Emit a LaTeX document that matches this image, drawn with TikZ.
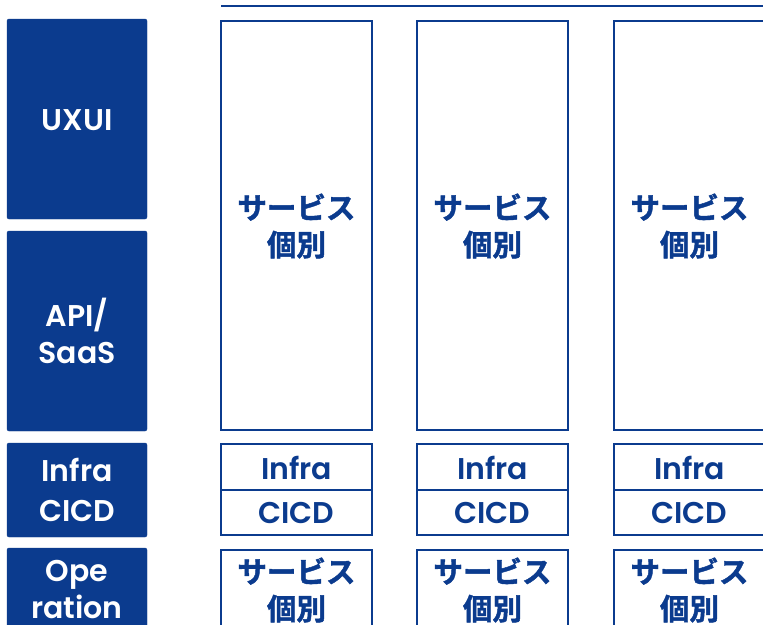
\documentclass[tikz,border=0pt]{standalone}
\usepackage{fontspec}
\setmainfont{Poppins}[BoldFont={Poppins SemiBold}]
\newfontfamily\jp{Noto Sans CJK JP}[BoldFont={Noto Sans CJK JP Bold},BoldFeatures={FakeBold=1.5}]
\definecolor{navy}{HTML}{0B3B8E}
\begin{document}
\begin{tikzpicture}[x=1pt,y=-1pt,
  catbox/.style={fill=navy,draw=navy,rounded corners=2pt},
  colbox/.style={draw=navy,line width=2pt,fill=white},
  cattext/.style={text=white,font=\fontsize{30}{37}\selectfont\bfseries,align=center,inner sep=0},
  coltext/.style={text=navy,font=\fontsize{30}{37}\selectfont\bfseries,align=center,inner sep=0},
  jptext/.style={text=navy,font=\jp\fontsize{29.5}{37}\selectfont\bfseries,align=center,inner sep=0}]
\path[use as bounding box] (0,0) rectangle (763,624);
\clip (0,0) rectangle (763,624);
\fill[white] (0,0) rectangle (763,624);
% top line
\draw[navy,line width=2pt] (221,6) -- (770,6);
% left category boxes
\draw[catbox] (7,19) rectangle (147,219);
\draw[catbox] (7,231) rectangle (147,431);
\draw[catbox] (7,443) rectangle (147,537);
\draw[catbox] (7,548) rectangle (147,640);
\node[cattext] (uxui) at (77,120) {UXUI};
\node[cattext] (api) at (77,331) {API/\\SaaS};
\node[cattext] (infra) at (77,490) {Infra\\[3pt]CICD};
\node[cattext] (ope) at (77,590) {Ope\\ration};
% columns
\foreach \x/\n in {221/a,417/b,614/c}{
  \draw[colbox] (\x,21) rectangle ++(151,409);
  \node[jptext] (svc\n) at (\x+75.5,226) {サービス\\個別};
  \draw[colbox] (\x,444) rectangle ++(151,91);
  \draw[navy,line width=2pt] (\x,490) -- ++(151,0);
  \node[coltext] (inf\n) at (\x+75.5,468) {Infra};
  \node[coltext] (ci\n) at (\x+75.5,513) {CICD};
  \draw[colbox] (\x,550) rectangle ++(151,100);
  \node[jptext] (op\n) at (\x+75.5,590) {サービス\\個別};
}
\end{tikzpicture}
\end{document}
